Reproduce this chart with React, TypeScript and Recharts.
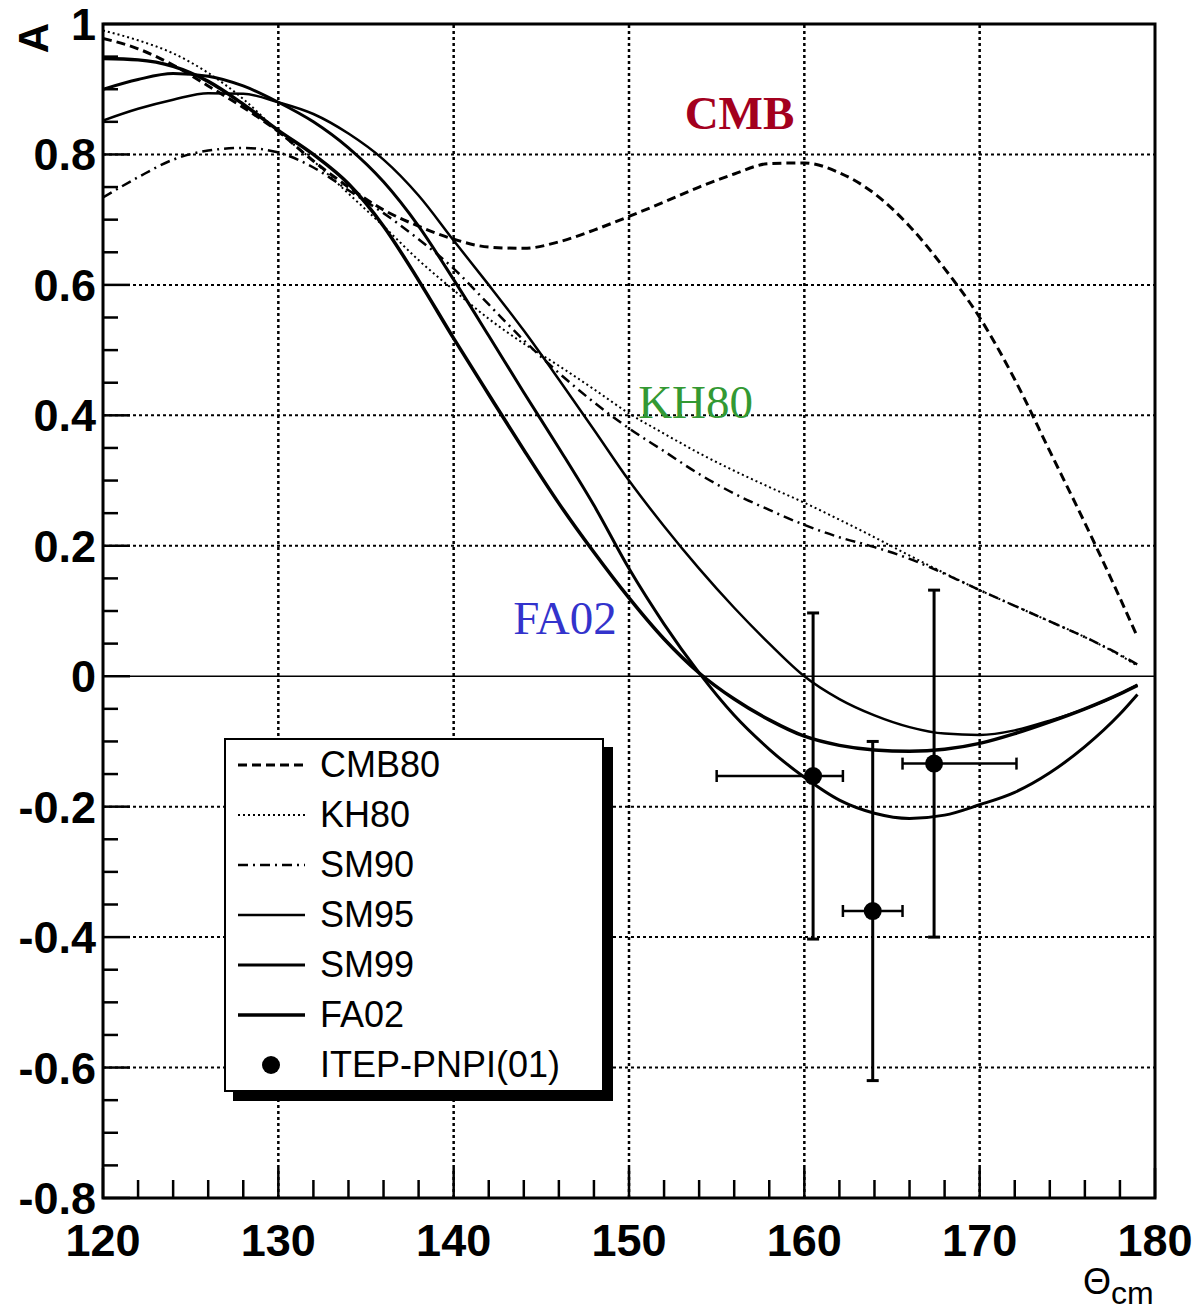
import React from "react";
import {
  ComposedChart,
  Line,
  Scatter,
  XAxis,
  YAxis,
  ReferenceLine,
  ReferenceArea,
  ReferenceDot,
  ErrorBar,
  Legend,
} from "recharts";

// scattering angle (deg, cm)
const THETA = [
  120, 122, 124, 126, 128, 130, 132, 134, 136, 138, 140, 142, 144, 146, 148, 150,
  152, 154, 156, 158, 160, 162, 164, 166, 168, 170, 172, 174, 176, 178, 179,
];

const CMB80 = [
  0.978, 0.962, 0.937, 0.905, 0.872, 0.835, 0.79, 0.75, 0.715, 0.69, 0.67, 0.658, 0.656,
  0.666, 0.684, 0.705, 0.727, 0.75, 0.77, 0.786, 0.787, 0.772, 0.74, 0.69, 0.625, 0.55,
  0.455, 0.345, 0.235, 0.12, 0.06,
];
const KH80 = [
  0.99, 0.975, 0.955, 0.925, 0.885, 0.835, 0.79, 0.74, 0.69, 0.638, 0.592, 0.548, 0.51,
  0.476, 0.44, 0.403, 0.372, 0.342, 0.315, 0.29, 0.266, 0.24, 0.213, 0.185, 0.158, 0.132,
  0.108, 0.084, 0.06, 0.032, 0.016,
];
const SM90 = [
  0.734, 0.765, 0.792, 0.806, 0.81, 0.803, 0.78, 0.745, 0.71, 0.67, 0.625, 0.57, 0.515,
  0.465, 0.42, 0.38, 0.345, 0.31, 0.28, 0.255, 0.232, 0.213, 0.198, 0.18, 0.157, 0.132,
  0.108, 0.084, 0.06, 0.033, 0.018,
];
const SM95 = [
  0.852, 0.87, 0.884, 0.894, 0.893, 0.88, 0.862, 0.832, 0.792, 0.737, 0.668, 0.6, 0.53,
  0.455, 0.378, 0.3, 0.23, 0.165, 0.105, 0.05, 0.0, -0.035, -0.06, -0.078, -0.088, -0.09,
  -0.083, -0.068, -0.05, -0.027, -0.013,
];
const SM99 = [
  0.9, 0.915, 0.924, 0.92, 0.905, 0.88, 0.85, 0.81, 0.758, 0.69, 0.608, 0.522, 0.435,
  0.35, 0.262, 0.165, 0.08, 0.005, -0.06, -0.112, -0.155, -0.19, -0.21, -0.218, -0.213,
  -0.197, -0.178, -0.148, -0.108, -0.058, -0.028,
];
const FA02 = [
  0.947, 0.945, 0.935, 0.912, 0.877, 0.837, 0.8, 0.755, 0.69, 0.607, 0.518, 0.432, 0.347,
  0.265, 0.19, 0.12, 0.057, 0.005, -0.035, -0.067, -0.092, -0.106, -0.113, -0.115,
  -0.112, -0.103, -0.088, -0.07, -0.05, -0.027, -0.014,
];

// ITEP-PNPI(01) measurements
const PT_THETA = [160.5, 163.9, 167.4];
const PT_A = [-0.153, -0.36, -0.134];
const PT_ERR_A = [0.25, 0.26, 0.266];
const PT_ERR_T_LO = [5.5, 1.7, 1.8];
const PT_ERR_T_HI = [1.7, 1.7, 4.7];

const X_TICKS = [
  120, 122, 124, 126, 128, 130, 132, 134, 136, 138, 140, 142, 144, 146, 148, 150, 152,
  154, 156, 158, 160, 162, 164, 166, 168, 170, 172, 174, 176, 178, 180,
];
const X_MAJOR = [120, 130, 140, 150, 160, 170, 180];
const X_LABELS = ["120", "130", "140", "150", "160", "170", "180"];
const X_GRID = [130, 140, 150, 160, 170];

const Y_TICKS = [
  1, 0.95, 0.9, 0.85, 0.8, 0.75, 0.7, 0.65, 0.6, 0.55, 0.5, 0.45, 0.4, 0.35, 0.3, 0.25,
  0.2, 0.15, 0.1, 0.05, 0, -0.05, -0.1, -0.15, -0.2, -0.25, -0.3, -0.35, -0.4, -0.45,
  -0.5, -0.55, -0.6, -0.65, -0.7, -0.75, -0.8,
];
const Y_MAJOR = [1, 0.8, 0.6, 0.4, 0.2, 0, -0.2, -0.4, -0.6, -0.8];
const Y_LABELS = ["1", "0.8", "0.6", "0.4", "0.2", "0", "-0.2", "-0.4", "-0.6", "-0.8"];
const Y_GRID = [0.8, 0.6, 0.4, 0.2, -0.2, -0.4, -0.6];

type Series = { key: string; name: string; values: number[]; dash?: string; width: number };

const SERIES: Series[] = [
  { key: "cmb80", name: "CMB80", values: CMB80, dash: "9 5", width: 3 },
  { key: "kh80", name: "KH80", values: KH80, dash: "2 3", width: 2 },
  { key: "sm90", name: "SM90", values: SM90, dash: "10 5 2 5", width: 2.5 },
  { key: "sm95", name: "SM95", values: SM95, width: 2.5 },
  { key: "sm99", name: "SM99", values: SM99, width: 3 },
  { key: "fa02", name: "FA02", values: FA02, width: 3.5 },
];

const curveData = THETA.map((t, i) => {
  const row: Record<string, number> = { theta: t };
  SERIES.forEach((s) => {
    row[s.key] = s.values[i];
  });
  return row;
});

const pointData = PT_THETA.map((t, i) => ({
  theta: t,
  a: PT_A[i],
  ea: PT_ERR_A[i],
  et: [PT_ERR_T_LO[i], PT_ERR_T_HI[i]],
}));

const SANS = "'Liberation Sans', Arial, Helvetica, sans-serif";
const SERIF = "'Liberation Serif', 'Times New Roman', serif";

function YTick(props: any) {
  const { x, y, payload } = props;
  const idx = Y_MAJOR.findIndex((m) => Math.abs(m - payload.value) < 1e-6);
  const major = idx >= 0;
  return (
    <g>
      <line x1={x} x2={x + (major ? 27 : 15)} y1={y} y2={y} stroke="#000" strokeWidth={2.5} />
      {major && (
        <text x={x - 7} y={y} dy={16} textAnchor="end" fontFamily={SANS} fontWeight="bold" fontSize={45} fill="#000">
          {Y_LABELS[idx]}
        </text>
      )}
    </g>
  );
}

function XTick(props: any) {
  const { x, y, payload } = props;
  const idx = X_MAJOR.findIndex((m) => Math.abs(m - payload.value) < 1e-6);
  const major = idx >= 0;
  return (
    <g>
      <line x1={x} x2={x} y1={y} y2={y - (major ? 30 : 18)} stroke="#000" strokeWidth={2.5} />
      {major && (
        <text x={x} y={y + 58} textAnchor="middle" fontFamily={SANS} fontWeight="bold" fontSize={45} fill="#000">
          {X_LABELS[idx]}
        </text>
      )}
    </g>
  );
}

function LegendBox() {
  const rowStyle: React.CSSProperties = {
    height: 50,
    display: "flex",
    alignItems: "center",
    position: "relative",
  };
  const textStyle: React.CSSProperties = {
    position: "absolute",
    left: 94,
    fontFamily: SANS,
    fontSize: 36,
    color: "#000",
    lineHeight: "50px",
  };
  return (
    <div
      style={{
        width: 380,
        height: 354,
        boxSizing: "border-box",
        border: "2px solid #000",
        boxShadow: "9px 9px 0 #000",
        background: "#fff",
      }}
    >
      {SERIES.map((s) => (
        <div key={s.key} style={rowStyle}>
          <svg width={90} height={50} style={{ position: "absolute", left: 0, top: 0 }}>
            <line x1={12} x2={79} y1={25} y2={25} stroke="#000" strokeWidth={s.width} strokeDasharray={s.dash} />
          </svg>
          <span style={textStyle}>{s.name}</span>
        </div>
      ))}
      <div style={rowStyle}>
        <svg width={90} height={50} style={{ position: "absolute", left: 0, top: 0 }}>
          <circle cx={45} cy={25} r={9} fill="#000" />
        </svg>
        <span style={textStyle}>ITEP-PNPI(01)</span>
      </div>
    </div>
  );
}

function Annotation(text: string, color: string, bold: boolean) {
  return (props: any) => {
    const vb = props.viewBox || {};
    return (
      <text
        x={vb.x}
        y={vb.y}
        textAnchor="middle"
        dominantBaseline="central"
        fontFamily={SERIF}
        fontWeight={bold ? "bold" : "normal"}
        fontSize={47}
        fill={color}
      >
        {text}
      </text>
    );
  };
}

export default function App() {
  return (
    <div style={{ position: "absolute", left: 0, top: 0, width: 1195, height: 1315, background: "#fff" }}>
      <ComposedChart width={1195} height={1315} margin={{ top: 24, right: 40, bottom: 67, left: 13 }}>
        <XAxis
          type="number"
          dataKey="theta"
          domain={[120, 180]}
          ticks={X_TICKS}
          interval={0}
          tickSize={0}
          tickMargin={0}
          axisLine={false}
          tick={<XTick />}
          height={50}
          allowDataOverflow
          label={{
            content: (p: any) => {
              const vb = p.viewBox;
              return (
                <text x={vb.x + vb.width - 72} y={vb.y + 96} fontFamily={SANS} fontSize={36} fill="#000">
                  Θ
                  <tspan fontSize={32} dy={10}>
                    cm
                  </tspan>
                </text>
              );
            },
          }}
        />
        <YAxis
          type="number"
          domain={[-0.8, 1]}
          ticks={Y_TICKS}
          interval={0}
          tickSize={0}
          tickMargin={0}
          axisLine={false}
          tick={<YTick />}
          width={90}
          allowDataOverflow
          label={{
            content: (p: any) => {
              const vb = p.viewBox;
              const cx = vb.x + 20;
              const cy = vb.y + 14;
              return (
                <text
                  x={cx}
                  y={cy}
                  transform={`rotate(-90 ${cx} ${cy})`}
                  textAnchor="middle"
                  dominantBaseline="central"
                  fontFamily={SANS}
                  fontWeight="bold"
                  fontSize={42}
                  fill="#000"
                >
                  A
                </text>
              );
            },
          }}
        />
        {X_GRID.map((v) => (
          <ReferenceLine key={`gx${v}`} x={v} stroke="#000" strokeWidth={2.5} strokeDasharray="3 3" />
        ))}
        {Y_GRID.map((v) => (
          <ReferenceLine key={`gy${v}`} y={v} stroke="#000" strokeWidth={2} strokeDasharray="3 3" />
        ))}
        <ReferenceLine y={0} stroke="#000" strokeWidth={1.5} />
        {SERIES.map((s) => (
          <Line
            key={s.key}
            data={curveData}
            dataKey={s.key}
            name={s.name}
            type="monotone"
            stroke="#000"
            strokeWidth={s.width}
            strokeDasharray={s.dash}
            dot={false}
            activeDot={false}
            isAnimationActive={false}
          />
        ))}
        <Scatter
          data={pointData}
          dataKey="a"
          name="ITEP-PNPI(01)"
          isAnimationActive={false}
          shape={(p: any) => <circle cx={p.cx} cy={p.cy} r={9} fill="#000" />}
        >
          <ErrorBar dataKey="ea" direction="y" width={6} stroke="#000" strokeWidth={3} isAnimationActive={false} />
          <ErrorBar dataKey="et" direction="x" width={6} stroke="#000" strokeWidth={2.5} isAnimationActive={false} />
        </Scatter>
        <ReferenceDot x={156.3} y={0.863} r={0} fill="none" stroke="none" label={{ content: Annotation("CMB", "#a3001e", true) }} />
        <ReferenceDot x={153.8} y={0.421} r={0} fill="none" stroke="none" label={{ content: Annotation("KH80", "#339933", false) }} />
        <ReferenceDot x={146.35} y={0.09} r={0} fill="none" stroke="none" label={{ content: Annotation("FA02", "#3333cc", false) }} />
        <ReferenceArea x1={120} x2={180} y1={-0.8} y2={1} fill="none" stroke="#000" strokeWidth={3} />
        <Legend
          layout="horizontal"
          verticalAlign="middle"
          align="center"
          content={() => <LegendBox />}
          wrapperStyle={{ left: 224, top: 738, width: 380, height: 354 }}
        />
      </ComposedChart>
    </div>
  );
}
